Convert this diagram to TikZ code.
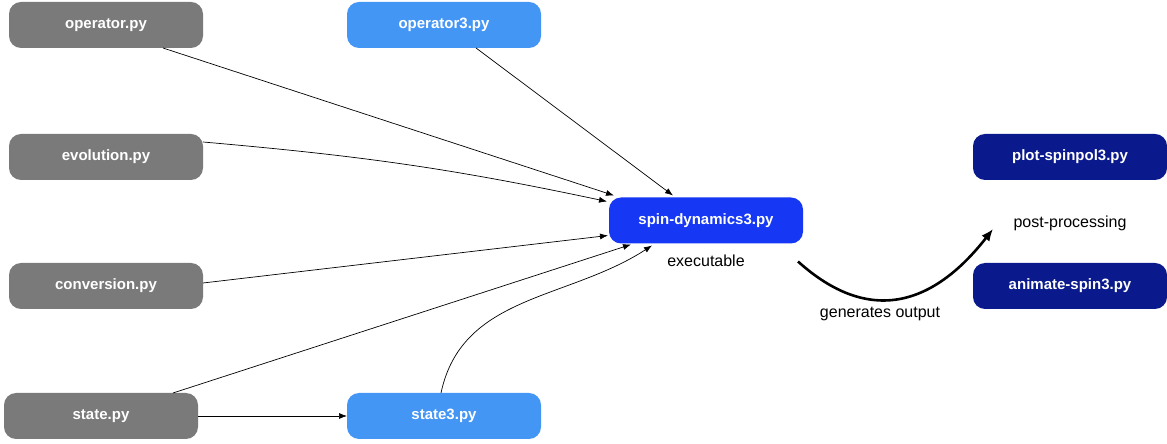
\documentclass[tikz,border=0pt]{standalone}
\usepackage{fontspec}
\setmainfont{Liberation Sans}
\usetikzlibrary{arrows.meta, positioning, calc}
\definecolor{modgray}{RGB}{122, 122, 122}
\definecolor{modlight}{RGB}{68, 150, 245}
\definecolor{modbright}{RGB}{22, 56, 245}
\definecolor{modnavy}{RGB}{10, 26, 140}

\begin{document}
\begin{tikzpicture}[
        x=1pt, y=1pt,
        file/.style={rounded corners=12pt, minimum width=194pt, minimum height=46pt, inner sep=0pt, outer sep=0pt, align=center, text=white, font=\fontsize{15}{17}\selectfont\bfseries},
        note/.style={font=\fontsize{16}{18}\selectfont, text=black},
        arrow/.style={-{Latex[length=8pt, width=6pt]}, line width=0.7pt}
    ]
        \useasboundingbox (0, 0) rectangle (1167, 444);

        % Original modules
        \node[file, fill=modgray] (op) at (106, 419) {operator.py};
        \node[file, fill=modgray] (evo) at (106, 287) {evolution.py};
        \node[file, fill=modgray] (conv) at (106, 158) {conversion.py};
        \node[file, fill=modgray] (st) at (101, 28) {state.py};

        % Version 3 modules
        \node[file, fill=modlight] (op3) at (444, 419) {operator3.py};
        \node[file, fill=modlight] (st3) at (444, 28) {state3.py};

        % Executable
        \node[file, fill=modbright] (spin) at (706, 223.5) {spin-dynamics3.py};
        \node[note] (exe) at (706, 183) {executable};

        % Post-processing
        \node[file, fill=modnavy] (plot) at (1070, 287) {plot-spinpol3.py};
        \node[file, fill=modnavy] (anim) at (1070, 158) {animate-spin3.py};
        \node[note] (post) at (1070, 221) {post-processing};
        \node[note] (gen) at (880, 130) {generates output};

        % Arrows - imports
        \draw[arrow] ([xshift=57pt]op.south) -- ([shift={(5pt,2pt)}]spin.north west);
        \draw[arrow] ([xshift=32pt]op3.south) -- ([shift={(-33pt,2pt)}]spin.north);
        \draw[arrow] ([yshift=15pt]evo.east) to[out=-5, in=168] ([shift={(-2pt,-4pt)}]spin.north west);
        \draw[arrow] ([yshift=3pt]conv.east) -- ([shift={(-1pt,-15pt)}]spin.west);
        \draw[arrow] ([xshift=72pt]st.north) -- ([shift={(-75pt,-1pt)}]spin.south);
        \draw[arrow] ([xshift=-3pt]st3.north) to[out=78, in=213] ([shift={(-54pt,-2pt)}]spin.south);
        \draw[arrow] (st.east) -- (st3.west);

        % Output arrow
        \coordinate (outtip) at (993, 215);
        \draw[-{Latex[length=12pt, width=10pt]}, line width=2.6pt] ([shift={(-5pt,-18pt)}]spin.south east) to[out=-42, in=-128, looseness=1.25] (outtip);
    \end{tikzpicture}
\end{document}
